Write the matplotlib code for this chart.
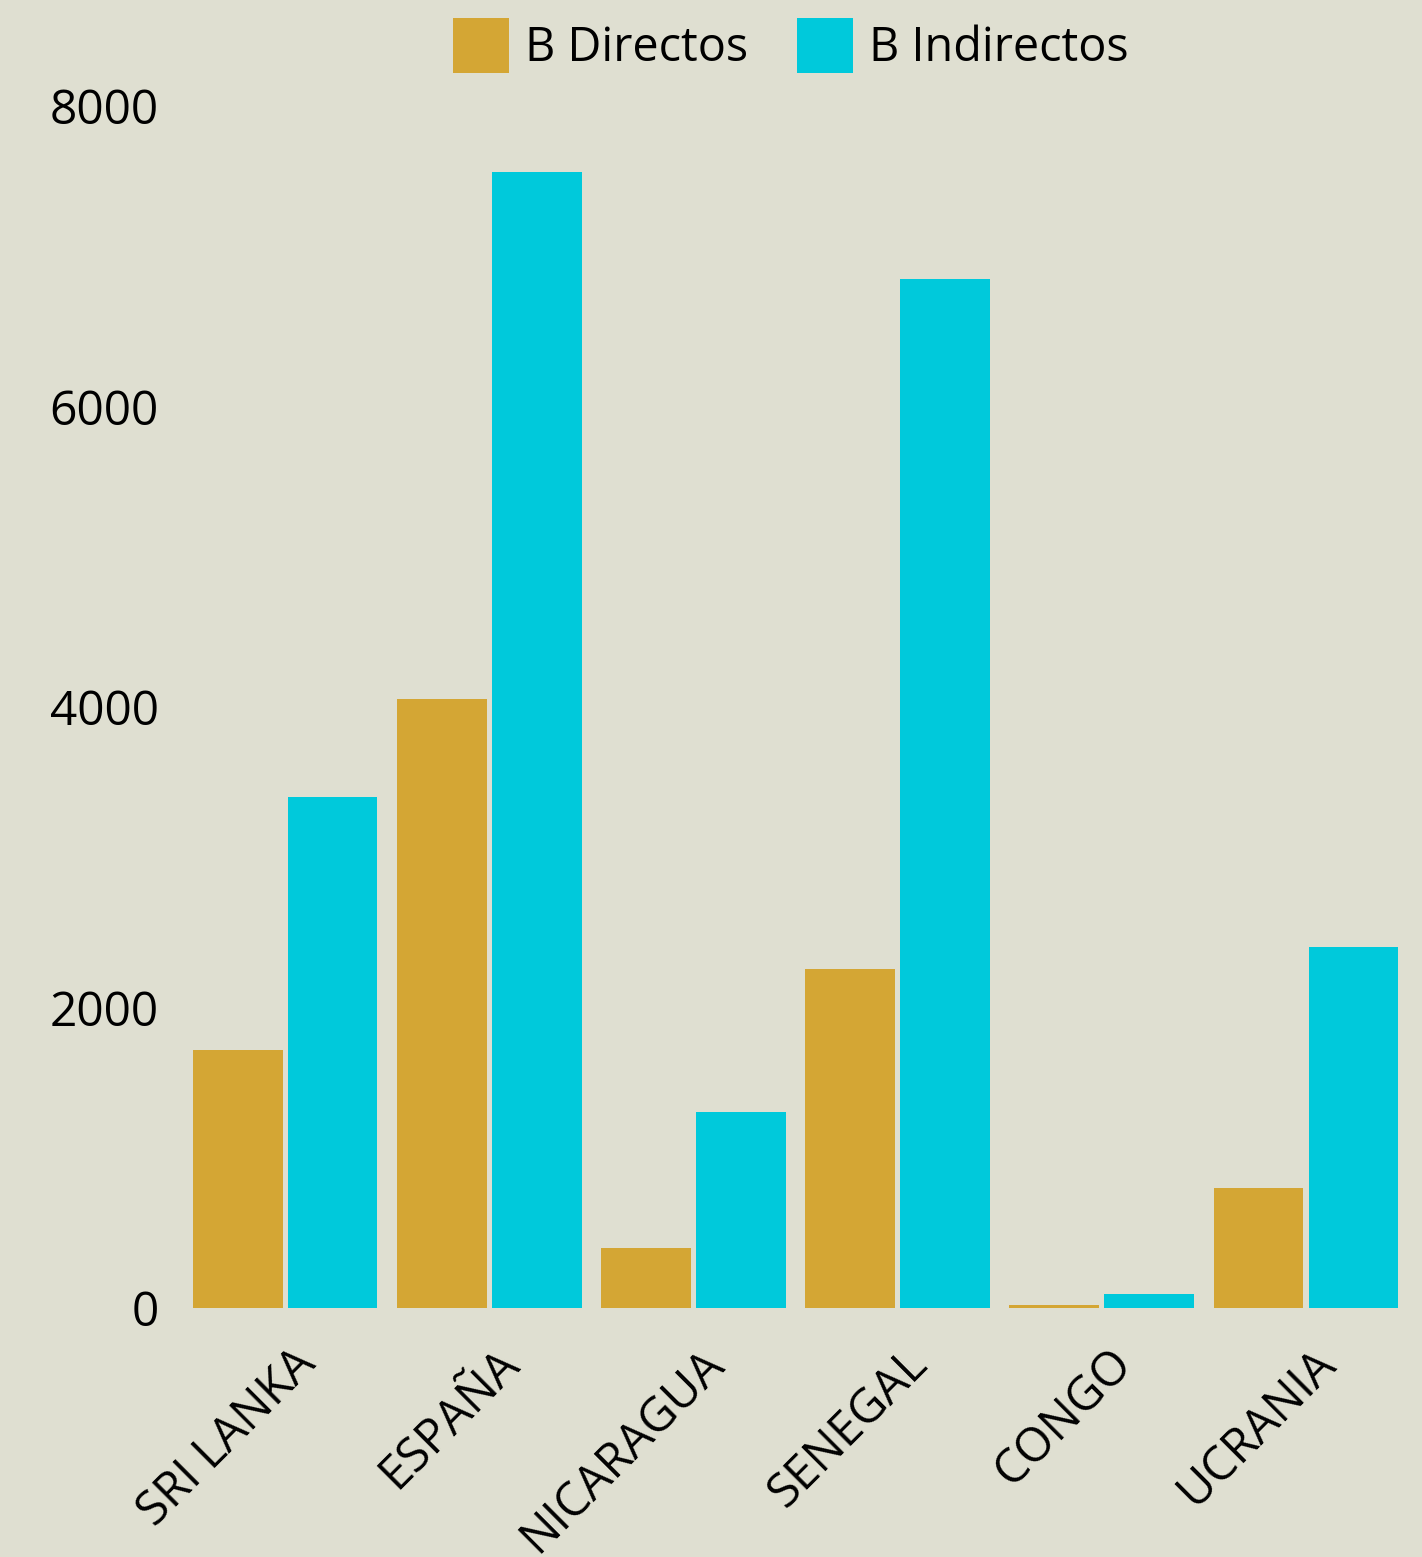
import numpy as np
import matplotlib
matplotlib.use("Agg")
from matplotlib import pyplot as plt
import matplotlib.transforms as mtransforms

# data
paises = ["SRI LANKA", "ESPAÑA", "NICARAGUA", "SENEGAL", "CONGO", "UCRANIA"]
directos = [1717, 4053, 399, 2256, 20, 799]
indirectos = [3401, 7561, 1304, 6849, 93, 2403]
y_ticks = [0, 2000, 4000, 6000, 8000]

BG = "#DFDFD1"
GOLD = "#D4A634"
CYAN = "#00C9DB"

plt.rcParams['font.family'] = ['Open Sans', 'DejaVu Sans']

fig = plt.figure(figsize=(14.22, 15.57), dpi=100, facecolor=BG)
ax = fig.add_axes([0.1287, 0.16, 0.8615, 0.772], facecolor=BG)

x = np.arange(len(paises))
w = 0.44
ax.bar(x - 0.2325, directos, width=w, color=GOLD, label="B Directos")
ax.bar(x + 0.2325, indirectos, width=w, color=CYAN, label="B Indirectos")

ax.set_xlim(-0.5, len(paises) - 0.5)
ax.set_ylim(0, 8000)
ax.set_yticks(y_ticks)
ax.set_yticklabels([str(t) for t in y_ticks], fontsize=34.5)
ax.set_xticks(x)
ax.set_xticklabels(paises, fontsize=34, rotation=45, ha="right",
                   rotation_mode="anchor")
ax.tick_params(axis="both", length=0)
ax.tick_params(axis="y", pad=17.5)
ax.tick_params(axis="x", pad=23)
# nudge the country labels to the right a bit
shift = mtransforms.ScaledTranslation(6 / 100, 0, fig.dpi_scale_trans)
for lab in ax.get_xticklabels():
    lab.set_transform(lab.get_transform() + shift)
for s in ax.spines.values():
    s.set_visible(False)

ax.legend(loc="lower center", bbox_to_anchor=(0.496, 1.0), ncol=2, frameon=False,
          fontsize=33.7, handlelength=1.2, handleheight=1.45, handletextpad=0.33,
          columnspacing=1.05, borderaxespad=0.3)

fig.savefig("out.png", dpi=100, facecolor=BG)
